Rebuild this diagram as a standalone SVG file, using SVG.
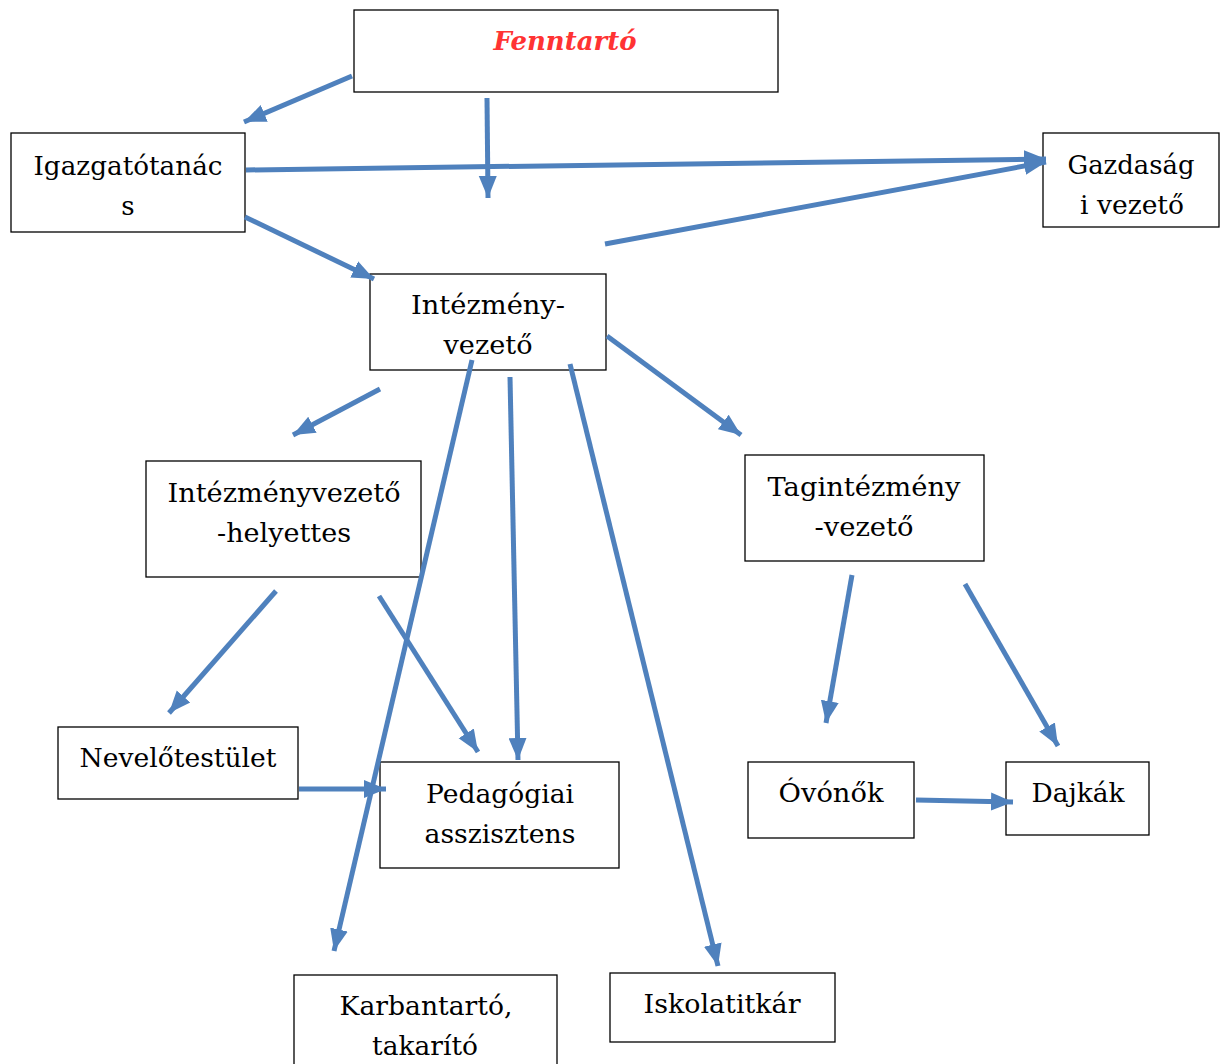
<svg xmlns="http://www.w3.org/2000/svg" width="1227" height="1064" viewBox="0 0 1227 1064">
<style>
.box{fill:#fff;stroke:#000;stroke-width:1.3}
.t{font-family:"DejaVu Serif","Liberation Serif",serif;font-size:26px;fill:#000;text-anchor:middle}
.red{fill:#f33;font-weight:bold;font-style:italic}
.c{stroke:#4f81bd;stroke-width:5;fill:none;marker-end:url(#ah)}
</style>
<defs>
<marker id="ah" markerUnits="userSpaceOnUse" markerWidth="24" markerHeight="20" refX="22" refY="10" orient="auto">
<path d="M0,1 L22,10 L0,19 Z" fill="#4f81bd"/>
</marker>
</defs>
<rect width="1227" height="1064" fill="#fff"/>
<g id="fenntarto"><rect class="box" x="354" y="10" width="424" height="82"/><text class="t red" x="565" y="50" textLength="143" lengthAdjust="spacingAndGlyphs">Fenntartó</text></g>
<g id="igazgatotanacs"><rect class="box" x="11" y="133" width="234" height="99"/><text class="t" x="128" y="175" textLength="189" lengthAdjust="spacingAndGlyphs">Igazgatótanác</text><text class="t" x="128" y="215">s</text></g>
<g id="gazdasagi"><rect class="box" x="1043" y="133" width="176" height="94"/><text class="t" x="1131" y="174" textLength="127" lengthAdjust="spacingAndGlyphs">Gazdaság</text><text class="t" x="1132" y="214" textLength="104" lengthAdjust="spacingAndGlyphs">i vezető</text></g>
<g id="intezmenyvezeto"><rect class="box" x="370" y="274" width="236" height="96"/><text class="t" x="488" y="314" textLength="154" lengthAdjust="spacingAndGlyphs">Intézmény-</text><text class="t" x="488" y="354" textLength="89" lengthAdjust="spacingAndGlyphs">vezető</text></g>
<g id="helyettes"><rect class="box" x="146" y="461" width="275" height="116"/><text class="t" x="284" y="502" textLength="233" lengthAdjust="spacingAndGlyphs">Intézményvezető</text><text class="t" x="284" y="542" textLength="134" lengthAdjust="spacingAndGlyphs">-helyettes</text></g>
<g id="tagintezmeny"><rect class="box" x="745" y="455" width="239" height="106"/><text class="t" x="864" y="496" textLength="193" lengthAdjust="spacingAndGlyphs">Tagintézmény</text><text class="t" x="864" y="536" textLength="99" lengthAdjust="spacingAndGlyphs">-vezető</text></g>
<g id="nevelotestulet"><rect class="box" x="58" y="727" width="240" height="72"/><text class="t" x="178" y="767" textLength="197" lengthAdjust="spacingAndGlyphs">Nevelőtestület</text></g>
<g id="pedagogiai"><rect class="box" x="380" y="762" width="239" height="106"/><text class="t" x="500" y="803" textLength="148" lengthAdjust="spacingAndGlyphs">Pedagógiai</text><text class="t" x="500" y="843" textLength="151" lengthAdjust="spacingAndGlyphs">asszisztens</text></g>
<g id="ovonok"><rect class="box" x="748" y="762" width="166" height="76"/><text class="t" x="831" y="802" textLength="105" lengthAdjust="spacingAndGlyphs">Óvónők</text></g>
<g id="dajkak"><rect class="box" x="1006" y="762" width="143" height="73"/><text class="t" x="1078" y="802" textLength="93" lengthAdjust="spacingAndGlyphs">Dajkák</text></g>
<g id="karbantarto"><rect class="box" x="294" y="975" width="263" height="100"/><text class="t" x="426" y="1015" textLength="173" lengthAdjust="spacingAndGlyphs">Karbantartó,</text><text class="t" x="425" y="1055" textLength="106" lengthAdjust="spacingAndGlyphs">takarító</text></g>
<g id="iskolatitkar"><rect class="box" x="610" y="973" width="225" height="69"/><text class="t" x="722" y="1013" textLength="157" lengthAdjust="spacingAndGlyphs">Iskolatitkár</text></g>
<g id="connectors">
<line class="c" x1="352" y1="76" x2="244" y2="122"/>
<line class="c" x1="487" y1="98" x2="488" y2="198"/>
<line class="c" x1="246" y1="170" x2="1046" y2="159"/>
<line class="c" x1="605" y1="244" x2="1046" y2="162"/>
<line class="c" x1="245" y1="217" x2="374" y2="279"/>
<line class="c" x1="380" y1="389" x2="293" y2="435"/>
<line class="c" x1="607" y1="336" x2="741" y2="435"/>
<line class="c" x1="472" y1="360" x2="334" y2="951"/>
<line class="c" x1="510" y1="377" x2="518" y2="760"/>
<line class="c" x1="570" y1="364" x2="718" y2="966"/>
<line class="c" x1="276" y1="591" x2="169" y2="713"/>
<line class="c" x1="379" y1="596" x2="478" y2="752"/>
<line class="c" x1="299" y1="789" x2="386" y2="789"/>
<line class="c" x1="852" y1="575" x2="826" y2="723"/>
<line class="c" x1="965" y1="584" x2="1058" y2="746"/>
<line class="c" x1="916" y1="800" x2="1013" y2="802"/>
</g>
</svg>
